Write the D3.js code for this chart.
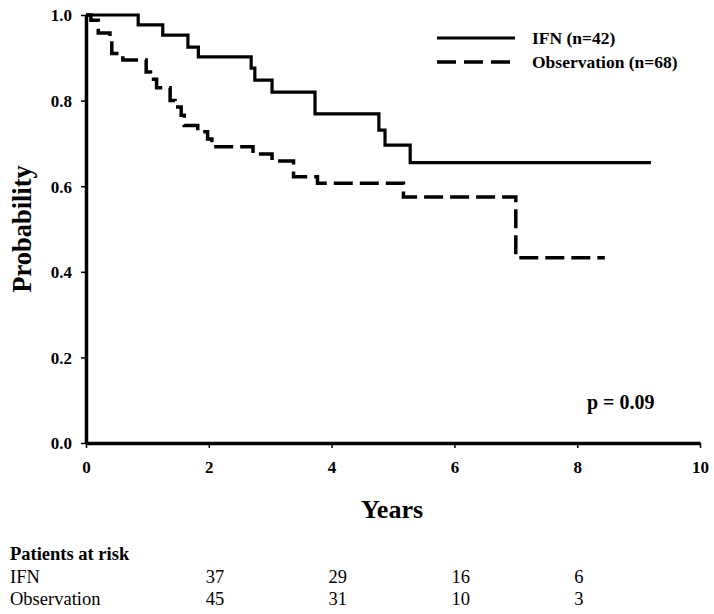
<!DOCTYPE html>
<html><head><meta charset="utf-8">
<script src="https://cdn.jsdelivr.net/npm/d3@7"></script>
<style>body{margin:0;background:#fff}svg{display:block}text{font-family:"Liberation Serif","Times New Roman",serif}</style>
</head><body>
<script>
const ifnTimes = [0, 0.85, 1.25, 1.66, 1.83, 2.69, 2.75, 3.03, 3.73, 4.77, 4.87, 5.28, 9.2];
const ifnSurv  = [1.0, 0.977, 0.953, 0.925, 0.902, 0.876, 0.848, 0.820, 0.769, 0.731, 0.696, 0.655, 0.655];
const obsTimes = [0, 0.08, 0.2, 0.39, 0.42, 0.6, 0.98, 1.05, 1.15, 1.37, 1.45, 1.55, 1.6, 1.82, 1.98, 2.05, 2.72, 3.03, 3.38, 3.77, 5.17, 7.0, 8.45];
const obsSurv  = [1.0, 0.988, 0.958, 0.94, 0.91, 0.895, 0.867, 0.85, 0.83, 0.80, 0.785, 0.766, 0.742, 0.727, 0.71, 0.692, 0.675, 0.659, 0.622, 0.607, 0.575, 0.433, 0.433];
const xTicks = [0, 2, 4, 6, 8, 10];
const yTicks = [0, 0.2, 0.4, 0.6, 0.8, 1.0];
const riskTimes = [2, 4, 6, 8];
const riskIFN = [37, 29, 16, 6];
const riskObs = [45, 31, 10, 3];
const legendLabels = ["IFN (n=42)", "Observation (n=68)"];

const W = 714, H = 614;
const m = {left: 86, top: 15, right: 14, bottom: 171};
const svg = d3.select("body").append("svg").attr("width", W).attr("height", H);
const x = d3.scaleLinear().domain([0, 10]).range([m.left, W - m.right]);
const y = d3.scaleLinear().domain([0, 1]).range([H - m.bottom, m.top]);

const line = d3.line().x(d => x(d[0])).y(d => y(d[1])).curve(d3.curveStepAfter);
function pts(t, s) { return t.map((v, i) => [v, s[i]]); }

// curves
svg.append("path").datum(pts(ifnTimes, ifnSurv)).attr("d", line)
  .attr("fill", "none").attr("stroke", "#000").attr("stroke-width", 3.2);
svg.append("path").datum(pts(obsTimes, obsSurv)).attr("d", line)
  .attr("fill", "none").attr("stroke", "#000").attr("stroke-width", 3.5)
  .attr("stroke-dasharray", "19,7");

// axes
const xAxis = svg.append("g").attr("transform", `translate(0,${y(0)})`)
  .call(d3.axisBottom(x).tickValues(xTicks).tickFormat(d3.format("d")).tickSize(5).tickSizeOuter(0));
const yAxis = svg.append("g").attr("transform", `translate(${x(0)},0)`)
  .call(d3.axisLeft(y).tickValues(yTicks).tickFormat(d3.format(".1f")).tickSize(5).tickSizeOuter(0));
[xAxis, yAxis].forEach(g => {
  g.select(".domain").attr("stroke-width", 3.5).attr("stroke", "#000");
  g.selectAll(".tick line").attr("stroke-width", 1.5).attr("stroke", "#000");
  g.selectAll(".tick text").attr("font-family", "Liberation Serif").attr("font-weight", "bold")
   .attr("font-size", 17).attr("fill", "#000");
});
xAxis.selectAll(".tick text").attr("y", 30).attr("dy", 0);
yAxis.selectAll(".tick text").attr("x", -14).attr("dy", "0.35em");

// axis titles
svg.append("text").attr("x", 392).attr("y", 518).attr("text-anchor", "middle")
  .attr("font-weight", "bold").attr("font-size", 26).text("Years");
svg.append("text").attr("transform", "translate(31,229) rotate(-90)").attr("text-anchor", "middle")
  .attr("font-weight", "bold").attr("font-size", 26.5).text("Probability");

// legend
const lg = svg.append("g");
lg.append("line").attr("x1", 437).attr("x2", 515).attr("y1", 38).attr("y2", 38)
  .attr("stroke", "#000").attr("stroke-width", 3.2);
lg.append("line").attr("x1", 437).attr("x2", 510).attr("y1", 62).attr("y2", 62)
  .attr("stroke", "#000").attr("stroke-width", 3.5).attr("stroke-dasharray", "19,8");
lg.selectAll("text.leg").data(legendLabels).join("text").attr("class", "leg")
  .attr("x", 532).attr("y", (d, i) => 44 + i * 24).attr("font-weight", "bold").attr("font-size", 17.5).text(d => d);

// p-value
svg.append("text").attr("x", 587).attr("y", 409).attr("font-weight", "bold").attr("font-size", 20).text("p = 0.09");

// at risk table
svg.append("text").attr("x", 10).attr("y", 560).attr("font-weight", "bold").attr("font-size", 18.5).text("Patients at risk");
const rows = [["IFN", riskIFN, 583], ["Observation", riskObs, 605]];
rows.forEach(([lab, vals, yy]) => {
  svg.append("text").attr("x", 10).attr("y", yy).attr("font-size", 18.5).text(lab);
  svg.selectAll(null).data(vals).join("text").attr("x", (d, i) => x(riskTimes[i]) - 3).attr("y", yy)
    .attr("font-size", 18.5).text(d => d);
});
</script>
</body></html>
